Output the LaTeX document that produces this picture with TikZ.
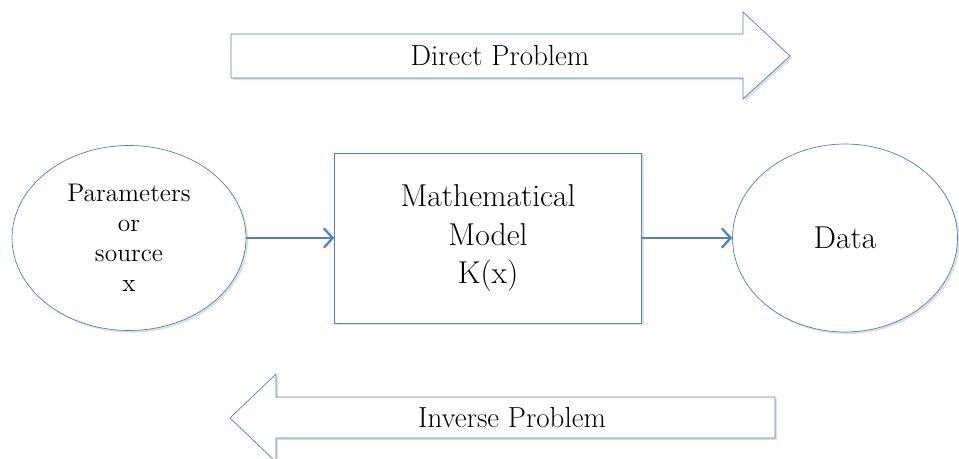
\documentclass[tikz,border=0pt]{standalone}
\usepackage{tikz}
\usetikzlibrary{arrows.meta,positioning,shapes.geometric,shadows}

\definecolor{lineblue}{HTML}{4F81BD}

\tikzset{
	softshadow/.style={drop shadow={opacity=0.25,shadow xshift=1.2pt,shadow yshift=-1.2pt}},
	blob/.style={ellipse,draw=lineblue,fill=white,align=center,softshadow},
	modelbox/.style={rectangle,draw=lineblue,fill=white,align=center,softshadow,
		minimum width=6.14cm,minimum height=3.4cm},
	bigarrow/.style={draw=lineblue,fill=white,line join=miter,softshadow},
	flow/.style={draw=lineblue,line width=1.3pt,-{Straight Barb[length=5pt,width=11pt]}},
	label/.style={font=\fontsize{16.5}{19}\selectfont}
}

\begin{document}
\begin{tikzpicture}[x=0.02cm,y=-0.02cm]
\useasboundingbox (0,0) rectangle (959,459);

% direct problem
\draw[bigarrow] (231,34) -- (743,34) -- (743,12) -- (790,56) -- (743,99) -- (743,78) -- (231,78) -- cycle;
\node[label] (direct) at (500,56) {Direct Problem};

% inverse problem
\draw[bigarrow] (230,418) -- (276,374) -- (276,397) -- (775,397) -- (775,438) -- (276,438) -- (276,462) -- cycle;
\node[label] (inverse) at (512,418) {Inverse Problem};

% the chain
\node[blob,minimum width=4.68cm,minimum height=3.7cm,font=\fontsize{14.5}{17}\selectfont]
	(params) at (129,238) {Parameters\\or\\source\\x};
\node[modelbox,font=\fontsize{18}{22}\selectfont] (model) at (488,238) {Mathematical\\Model\\K(x)};
\node[blob,minimum width=4.5cm,minimum height=3.76cm,font=\fontsize{18}{22}\selectfont]
	(data) at (845,238) {Data};

\draw[flow] (params) -- (model);
\draw[flow] (model) -- (data);

\end{tikzpicture}
\end{document}
